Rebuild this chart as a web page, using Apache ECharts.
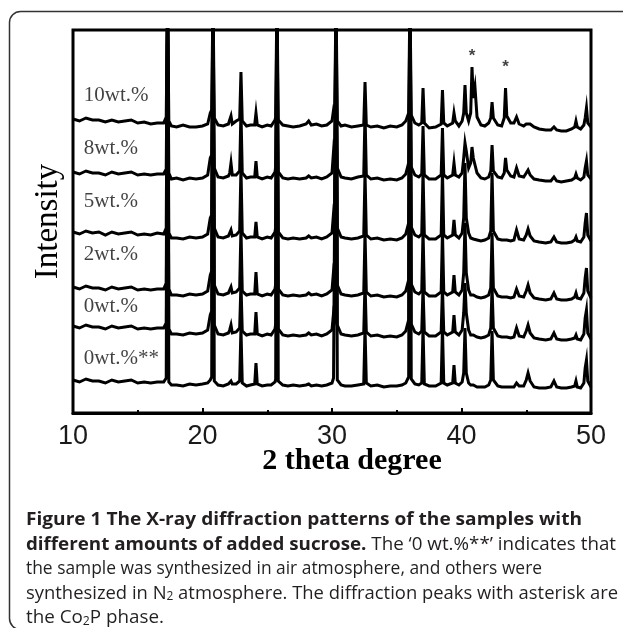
<!DOCTYPE html>
<html><head><meta charset="utf-8">
<script src="https://cdn.jsdelivr.net/npm/echarts@6/dist/echarts.min.js"></script>
<style>html,body{margin:0;padding:0;background:#fff;overflow:hidden}#c{width:623px;height:628px}</style>
</head><body><div id="c"></div>
<script>
// off-scale peak (clipped at top of the frame)
const OFF = 420;

// 2-theta sample positions (degrees)
const theta = [
  10,10.5,11,11.5,12,12.5,13,13.5,14,14.5,15,15.5,16,16.5,17,
  17.2,17.3,17.4,17.6,18,18.5,19,19.5,20,20.4,20.6,
  20.71,20.81,20.91,21.2,21.6,22,22.1,22.2,22.3,
  22.6,22.87,22.97,23.07,23.4,23.7,24.03,24.13,24.23,24.6,25,25.3,
  25.6,25.65,25.75,25.85,26.2,26.6,27,27.5,28,28.2,28.4,28.8,29.2,29.6,30,
  30.12,30.21,30.31,30.41,30.7,31,31.5,32,32.45,32.55,32.65,33,
  33.5,34,34.5,35,35.4,35.7,35.92,36.02,36.12,36.4,36.7,36.93,37.03,37.13,37.5,
  38,38.43,38.53,38.63,38.9,39.32,39.42,39.52,39.8,40.05,40.17,40.27,40.37,40.55,
  40.71,40.81,40.91,41.04,41.2,41.5,41.8,42.1,42.26,42.36,42.46,42.8,43.1,43.3,43.4,43.5,43.8,
  44.05,44.25,44.45,44.8,45,45.14,45.3,45.6,46,46.5,46.9,47.14,47.35,47.7,48.1,48.5,48.74,48.84,48.94,49.2,49.45,49.55,49.65,49.75,50
];

// intensities (stacked, arbitrary units)
const wt10 = [
  294,292,295,293,293,291,293,291,292,293,290,291,289,290,290,
  296,OFF,292,287,286,288,286,286,287,289,300,
  303,OFF,295,288,287,289,291,297,289,
  292,294,341,292,287,288,288,300,288,286,288,287,
  293,296,OFF,293,288,287,286,287,289,292,288,289,287,288,292,
  303,300,OFF,292,287,288,286,287,288,331,288,286,
  287,285,287,286,288,292,300,OFF,298,290,288,290,325,290,285,
  286,289,323,290,287,290,300,292,287,292,300,328,300,292,
  300,346,315,326,296,288,287,290,295,311,295,288,287,295,325,297,290,
  290,296,289,287,289,291,289,286,284,283,283,286,283,282,282,284,286,292,286,284,288,295,305,290,286
];
const wt8 = [
  241,239,242,240,240,238,241,239,240,241,238,239,238,239,239,
  244,OFF,240,234,235,233,235,234,235,238,255,
  258,OFF,245,236,235,237,240,250,238,
  238,242,302,240,235,236,236,252,236,234,236,235,
  241,246,OFF,241,235,234,235,234,235,237,235,236,234,236,240,
  262,255,OFF,245,236,235,234,236,237,300,238,234,
  235,233,234,233,235,239,250,OFF,246,238,236,239,287,238,234,
  234,238,285,238,235,238,250,238,236,240,255,270,262,245,
  250,266,255,256,240,235,234,236,242,268,242,236,235,240,255,243,237,
  236,245,237,236,240,243,238,234,233,232,232,236,232,231,232,233,235,239,235,233,236,245,252,238,234
];
const wt5 = [
  181,179,182,180,181,178,181,179,180,181,178,179,178,180,179,
  185,OFF,180,175,175,174,176,175,176,179,195,
  198,OFF,185,176,175,177,179,183,177,
  178,182,245,180,175,176,176,191,176,174,176,175,
  181,186,OFF,181,175,174,175,174,175,177,175,176,174,176,180,
  200,195,OFF,185,176,175,174,175,177,240,178,174,
  175,173,174,173,175,179,190,OFF,186,178,176,179,242,178,174,
  174,178,242,178,175,178,193,178,175,180,195,250,195,180,
  175,174,174,173,173,172,173,175,182,240,182,174,173,173,174,173,172,
  173,183,174,173,178,184,177,172,171,170,171,176,171,170,170,171,173,176,172,171,176,190,200,178,172
];
const wt2 = [
  126,124,127,125,125,123,126,124,125,126,123,124,123,124,124,
  130,OFF,124,118,118,117,119,118,119,122,138,
  142,OFF,128,119,118,120,122,126,120,
  121,125,185,122,118,119,119,141,119,117,119,118,
  124,129,OFF,124,118,117,118,117,118,120,118,119,117,119,123,
  142,138,OFF,128,119,118,117,118,120,180,121,117,
  118,116,117,116,118,122,133,OFF,129,121,119,122,182,121,117,
  117,121,182,121,118,121,138,121,118,123,140,190,140,123,
  118,117,118,117,116,115,116,118,125,180,125,117,116,116,117,116,115,
  116,124,117,116,122,128,120,115,114,113,114,120,114,113,113,114,116,120,115,114,120,135,145,122,115
];
const wt0 = [
  87,85,88,86,86,84,87,85,86,87,84,85,84,85,85,
  90,OFF,84,79,79,78,80,79,80,83,98,
  102,OFF,88,79,78,80,83,88,80,
  81,85,130,82,78,79,79,101,79,77,79,78,
  84,89,OFF,84,78,77,78,77,78,80,78,79,77,79,83,
  100,96,OFF,88,79,78,77,78,80,130,81,77,
  78,76,77,76,78,82,93,OFF,89,81,79,82,125,81,77,
  77,81,125,81,78,81,98,81,78,83,100,130,100,83,
  78,77,78,77,76,75,76,78,85,125,85,77,76,76,77,76,75,
  76,85,77,76,82,88,80,75,74,73,74,80,74,73,73,74,75,78,74,73,79,95,103,80,74
];
const wt0air = [
  33,31,34,32,32,30,33,31,32,33,30,31,30,31,31,
  35,OFF,31,28,28,27,29,28,29,30,33,
  36,OFF,32,28,27,29,30,32,29,
  29,32,85,30,27,28,29,50,29,27,28,28,
  31,34,OFF,32,28,27,28,27,28,29,27,28,27,28,30,
  35,36,OFF,33,28,27,27,28,29,85,30,27,
  28,26,27,27,28,30,36,OFF,34,29,28,30,85,29,27,
  27,30,85,30,28,30,48,30,28,31,40,85,40,30,
  28,27,28,27,26,26,26,28,33,82,33,27,26,26,27,26,26,
  26,30,27,27,33,40,32,26,25,25,26,32,26,25,25,26,27,32,26,25,30,45,53,32,26
];

const sampleNames = ['10wt.%','8wt.%','5wt.%','2wt.%','0wt.%','0wt.%**'];
const sampleLabelLevel = [318,265,212,159,107,55];   // intensity level of each sample's name
const sampleLabelTheta = 10.75;
const co2pPeaks = [[40.81,361],[43.4,350]];           // asterisk-marked Co2P peaks

const captionLines = [
  [['b','Figure 1 The X-ray diffraction patterns of the samples with']],
  [['b','different amounts of added sucrose.'],['r',' The \u20180 wt.%**\u2019 indicates that']],
  [['r','the sample was synthesized in air atmosphere, and others were']],
  [['r','synthesized in N'],['s','2'],['r',' atmosphere. The diffraction peaks with asterisk are']],
  [['r','the Co'],['s','2'],['r','P phase.']]
];
const captionWidths = [556, 590, 516, 592, 138];

const allSeries = [wt10, wt8, wt5, wt2, wt0, wt0air];

const CAP_FONT = '"Open Sans"';
const capStyles = {
  b: {fontFamily: CAP_FONT, fontWeight: 'bold', fontSize: 18.5, fill: '#231f20'},
  r: {fontFamily: CAP_FONT, fontWeight: 'normal', fontSize: 18.5, fill: '#231f20'},
  s: {fontFamily: CAP_FONT, fontWeight: 'normal', fontSize: 12, fill: '#231f20', verticalAlign: 'bottom'}
};
const ctx = document.createElement('canvas').getContext('2d');
function tokWidth(kind, txt) {
  const st = capStyles[kind];
  ctx.font = (st.fontWeight === 'bold' ? 'bold ' : '') + st.fontSize + 'px ' + st.fontFamily;
  return ctx.measureText(txt).width;
}

const graphics = [{
  type: 'rect', silent: true,
  shape: {x: 9.5, y: 11.5, width: 700, height: 618, r: 11},
  style: {fill: 'none', stroke: '#333', lineWidth: 1.5}
}];
captionLines.forEach((line, k) => {
  const w = line.reduce((a, t) => a + tokWidth(t[0], t[1]), 0);
  const text = line.map(t => '{' + t[0] + '|' + t[1] + '}').join('');
  graphics.push({
    type: 'text', silent: true, x: 26, y: 520 + 24.5 * k,
    scaleX: captionWidths[k] / w, scaleY: 1,
    style: {text: text, rich: capStyles, verticalAlign: 'middle', align: 'left'}
  });
});

const chart = echarts.init(document.getElementById('c'), null, {renderer: 'canvas'});
const series = allSeries.map((arr, k) => ({
  type: 'line', name: sampleNames[k],
  data: theta.map((t, i) => [t, arr[i]]),
  symbol: 'none', showSymbol: false, clip: true, z: 3,
  lineStyle: {color: '#000', width: 3, join: 'miter'}
}));
series.push({
  type: 'scatter', name: 'labels', z: 4,
  data: sampleNames.map((n, k) => ({value: [sampleLabelTheta, sampleLabelLevel[k]], name: n})),
  symbolSize: 2, itemStyle: {color: 'rgba(255,255,255,0)'},
  label: {show: true, position: 'right', distance: 0, formatter: p => p.name,
    fontFamily: '"Liberation Serif"', fontSize: 21, color: '#111'}
});
series.push({
  type: 'scatter', name: 'co2p', z: 4,
  data: co2pPeaks.map(p => ({value: p, name: '*'})),
  symbolSize: 2, itemStyle: {color: 'rgba(255,255,255,0)'},
  label: {show: true, position: 'inside', formatter: '*', offset: [0, 4],
    fontFamily: '"Liberation Sans"', fontWeight: 'bold', fontSize: 17, color: '#111'}
});

chart.setOption({
  animation: false,
  backgroundColor: '#fff',
  grid: {left: 73, right: 32, top: 30, bottom: 215, show: true, borderColor: '#000', borderWidth: 3,
    containLabel: false, outerBoundsMode: 'none'},
  xAxis: {
    type: 'value', min: 10, max: 50, interval: 10,
    axisLine: {show: true, onZero: false, lineStyle: {color: '#000', width: 3}},
    axisTick: {show: true, inside: true, length: 5, lineStyle: {color: '#000', width: 2}},
    minorTick: {show: true, splitNumber: 2, length: 3, lineStyle: {color: '#000', width: 2}},
    splitLine: {show: false}, minorSplitLine: {show: false},
    axisLabel: {fontFamily: '"Liberation Sans"', fontSize: 27, color: '#1a1a1a', margin: 10},
    name: '2 theta degree', nameLocation: 'middle', nameGap: 33, nameMoveOverlap: false,
    nameTextStyle: {fontFamily: '"Liberation Serif"', fontWeight: 'bold', fontSize: 30, color: '#000', padding: [0, 0, 0, 40]}
  },
  yAxis: {
    type: 'value', min: 0, max: 383,
    axisLine: {show: false}, axisTick: {show: false}, axisLabel: {show: false}, splitLine: {show: false},
    name: 'Intensity', nameLocation: 'middle', nameGap: 8, nameMoveOverlap: false,
    nameTextStyle: {fontFamily: '"Liberation Serif"', fontSize: 33, color: '#000'}
  },
  graphic: graphics,
  series: series
});
</script>
</body></html>
